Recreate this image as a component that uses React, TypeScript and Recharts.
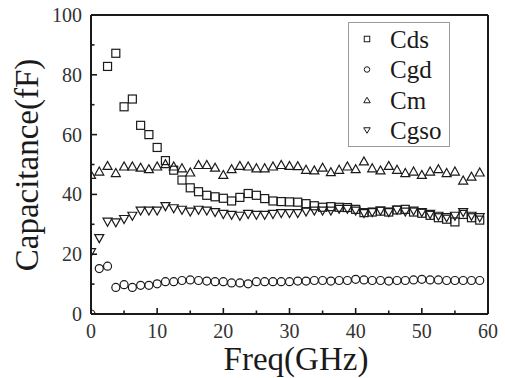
import React from 'react';
import { ScatterChart, Scatter, XAxis, YAxis, ReferenceLine, Legend, Label } from 'recharts';

// frequency points (GHz)
const freq = [0, 1.25, 2.5, 3.75, 5, 6.25, 7.5, 8.75, 10, 11.25, 12.5, 13.75, 15, 16.25, 17.5, 18.75, 20, 21.25, 22.5, 23.75, 25, 26.25, 27.5, 28.75, 30, 31.25, 32.5, 33.75, 35, 36.25, 37.5, 38.75, 40, 41.25, 42.5, 43.75, 45, 46.25, 47.5, 48.75, 50, 51.25, 52.5, 53.75, 55, 56.25, 57.5, 58.75];

const cds = [null, null, 82.8, 87.2, 69.3, 71.9, 63.1, 60.0, 55.7, 51.3, 48.1, 44.8, 42.2, 40.9, 39.7, 39.2, 38.7, 37.8, 39.0, 40.3, 39.7, 38.6, 37.8, 37.6, 37.5, 37.4, 36.9, 36.2, 35.7, 35.9, 35.7, 35.6, 35.0, 33.9, 34.1, 34.4, 34.1, 34.8, 35.0, 34.1, 33.7, 33.0, 32.2, 31.7, 30.8, 33.3, 32.2, 31.4];
const cgd = [0, 15.2, 16.0, 8.9, 9.8, 8.9, 9.6, 9.6, 10.1, 10.8, 10.8, 11.2, 11.4, 11.2, 11.0, 10.8, 10.8, 10.4, 10.4, 10.1, 10.8, 10.8, 10.8, 10.8, 10.8, 11.0, 11.0, 11.2, 11.2, 11.0, 11.2, 11.2, 11.6, 11.4, 11.2, 11.2, 11.0, 11.2, 11.2, 11.4, 11.6, 11.4, 11.4, 11.2, 11.2, 11.2, 11.2, 11.2];
const cm = [46.7, 47.8, 49.7, 47.3, 49.5, 49.5, 49.1, 48.6, 49.5, 50.3, 49.5, 48.9, 47.5, 50.0, 50.0, 49.1, 46.7, 48.6, 49.7, 49.5, 48.9, 48.9, 49.5, 50.0, 49.7, 49.6, 48.4, 48.2, 49.1, 47.6, 48.4, 49.5, 48.6, 51.2, 48.9, 48.2, 49.7, 48.4, 47.3, 47.8, 46.7, 47.8, 48.6, 47.3, 47.8, 44.8, 46.1, 47.5];
const cgso = [20.5, 25.2, 30.7, 30.5, 31.6, 32.7, 34.4, 34.4, 34.4, 35.9, 35.2, 34.7, 34.1, 34.7, 34.4, 33.9, 33.3, 33.0, 32.7, 33.3, 33.0, 33.0, 33.3, 33.6, 33.6, 33.6, 34.1, 34.4, 34.4, 34.4, 35.0, 35.0, 34.4, 33.6, 33.9, 34.4, 33.9, 34.7, 34.1, 34.4, 33.9, 33.3, 32.7, 32.2, 32.7, 33.9, 32.7, 32.2];

const seriesNames = ['Cds', 'Cgd', 'Cm', 'Cgso'];
const xTicks = [0, 5, 10, 15, 20, 25, 30, 35, 40, 45, 50, 55, 60];
const yTicks = [0, 10, 20, 30, 40, 50, 60, 70, 80, 90, 100];

const toPoints = (vals: (number | null)[]) =>
  vals.map((v, i) => ({ x: freq[i], y: v })).filter((p) => p.y !== null);

const serif = 'Liberation Serif, Times New Roman, serif';
const ink = '#1a1a1a';

type Kind = 'square' | 'circle' | 'up' | 'down';

const marker = (kind: Kind, cx: number, cy: number, s: number, sw = 1.2) => {
  const h = s / 2;
  if (kind === 'square') return <rect x={cx - h} y={cy - h} width={s} height={s} fill="none" stroke={ink} strokeWidth={sw} />;
  if (kind === 'circle') return <circle cx={cx} cy={cy} r={h} fill="none" stroke={ink} strokeWidth={sw} />;
  if (kind === 'up') return <polygon points={`${cx - h - 0.5},${cy + h} ${cx + h + 0.5},${cy + h} ${cx},${cy - h}`} fill="none" stroke={ink} strokeWidth={sw} />;
  return <polygon points={`${cx - h - 0.5},${cy - h} ${cx + h + 0.5},${cy - h} ${cx},${cy + h}`} fill="none" stroke={ink} strokeWidth={sw} />;
};

const shapeOf = (kind: Kind) => (props: any) => marker(kind, props.cx, props.cy, 8);

const XTick = (props: any) => {
  const { x, y, payload } = props;
  const major = payload.value % 10 === 0;
  return (
    <g>
      <line x1={x} x2={x} y1={y} y2={y - (major ? 6 : 3.5)} stroke={ink} strokeWidth={1.6} />
      {major && (
        <text x={x} y={y + 17} textAnchor="middle" dominantBaseline="central" fontSize={20} style={{ fontFamily: serif }} fill="#333">
          {payload.value}
        </text>
      )}
    </g>
  );
};

const YTick = (props: any) => {
  const { x, y, payload } = props;
  const major = payload.value % 20 === 0;
  return (
    <g>
      <line x1={x} x2={x + (major ? 6 : 3.5)} y1={y} y2={y} stroke={ink} strokeWidth={1.6} />
      {major && (
        <text x={x - 9} y={y} textAnchor="end" dominantBaseline="central" fontSize={20} style={{ fontFamily: serif }} fill="#333">
          {payload.value}
        </text>
      )}
    </g>
  );
};

const kinds: Kind[] = ['square', 'circle', 'up', 'down'];

const LegendBox = () => (
  <svg width={102} height={125} style={{ display: 'block' }}>
    <rect x={0.5} y={0.5} width={101} height={124} fill="#fff" stroke="#9a9a9a" strokeWidth={1} />
    {seriesNames.map((name, i) => {
      const cy = 17 + i * 30.5;
      return (
        <g key={name}>
          {marker(kinds[i], 19, cy, 5.5, 1)}
          <text x={42} y={cy} dominantBaseline="central" fontSize={25} style={{ fontFamily: serif }} fill={ink}>
            {name}
          </text>
        </g>
      );
    })}
  </svg>
);

export default function App() {
  return (
    <div style={{ position: 'absolute', left: 0, top: 0 }}>
      <ScatterChart width={505} height={378} margin={{ top: 15, right: 17, left: 0, bottom: 0 }}>
        <XAxis
          type="number"
          dataKey="x"
          domain={[0, 60]}
          ticks={xTicks}
          interval={0}
          height={64}
          tickSize={0}
          tickMargin={0}
          tick={<XTick />}
          axisLine={{ stroke: ink, strokeWidth: 2 }}
          allowDataOverflow
        >
          <Label
            content={() => (
              <text x={296} y={359} textAnchor="middle" dominantBaseline="central" fontSize={33} style={{ fontFamily: serif }} fill={ink}>
                Freq(GHz)
              </text>
            )}
          />
        </XAxis>
        <YAxis
          type="number"
          dataKey="y"
          domain={[0, 100]}
          ticks={yTicks}
          interval={0}
          width={91}
          tickSize={0}
          tickMargin={0}
          tick={<YTick />}
          axisLine={{ stroke: ink, strokeWidth: 2 }}
          allowDataOverflow
        >
          <Label
            content={() => (
              <text x={27} y={165} transform="rotate(-90 27 165)" textAnchor="middle" dominantBaseline="central" fontSize={33} style={{ fontFamily: serif }} fill={ink}>
                Capacitance(fF)
              </text>
            )}
          />
        </YAxis>
        <ReferenceLine y={100} stroke={ink} strokeWidth={2} />
        <ReferenceLine x={60} stroke={ink} strokeWidth={2} />
        <Scatter name="Cds" data={toPoints(cds)} shape={shapeOf('square')} isAnimationActive={false} />
        <Scatter name="Cgd" data={toPoints(cgd)} shape={shapeOf('circle')} isAnimationActive={false} />
        <Scatter name="Cm" data={toPoints(cm)} shape={shapeOf('up')} isAnimationActive={false} />
        <Scatter name="Cgso" data={toPoints(cgso)} shape={shapeOf('down')} isAnimationActive={false} />
        <Legend
          layout="vertical"
          align="center"
          verticalAlign="middle"
          content={() => <LegendBox />}
          wrapperStyle={{ left: 348, top: 22, width: 102, height: 125 }}
        />
      </ScatterChart>
    </div>
  );
}
